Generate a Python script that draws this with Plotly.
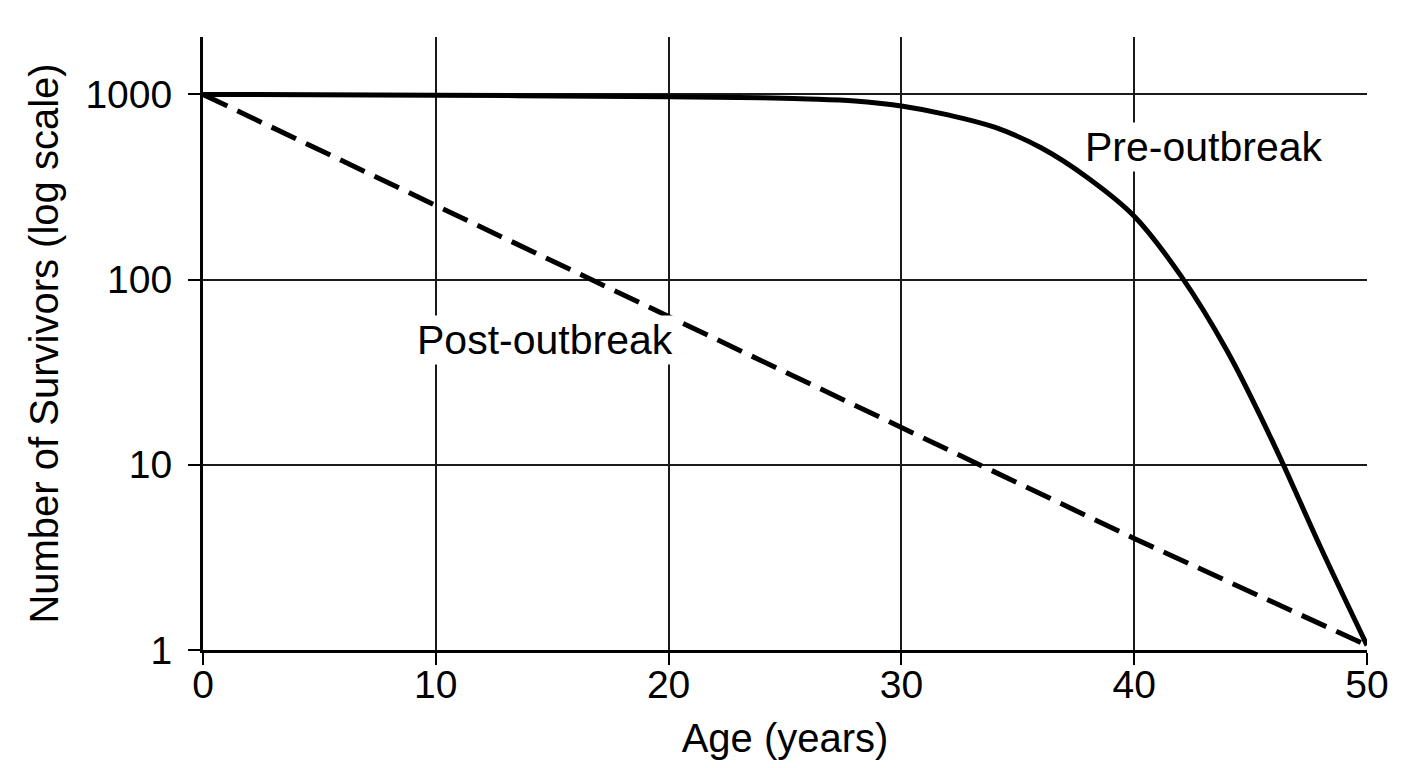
import plotly.graph_objects as go

# survival curves (age in years, survivors on log scale)
ages_pre = [0, 10, 20, 24, 26, 28, 30, 32, 34, 36, 38, 40, 42, 44, 46, 48, 50]
survivors_pre = [1000, 990, 972, 958, 945, 922, 865, 775, 665, 515, 355, 220, 105, 41, 12.9, 3.6, 1.06]

ages_post = [0, 10, 20, 30, 40, 50]
survivors_post = [1000, 251, 63, 16, 4.0, 1.06]

x_ticks = [0, 10, 20, 30, 40, 50]
y_ticks = [1, 10, 100, 1000]
y_tick_text = ['1', '10', '100', '1000']

font_family = 'Liberation Sans, Arial, sans-serif'

fig = go.Figure()

fig.add_trace(go.Scatter(
    x=ages_pre, y=survivors_pre,
    mode='lines',
    line=dict(color='black', width=5, shape='spline', smoothing=1),
    name='Pre-outbreak'
))

fig.add_trace(go.Scatter(
    x=ages_post, y=survivors_post,
    mode='lines',
    line=dict(color='black', width=5, dash='27px,11px'),
    name='Post-outbreak'
))

fig.add_annotation(x=43.0, y=2.714, text='Pre-outbreak', showarrow=False,
                   bgcolor='white', font=dict(size=41, color='black', family=font_family))
fig.add_annotation(x=14.7, y=1.673, text='Post-outbreak', showarrow=False,
                   bgcolor='white', font=dict(size=41, color='black', family=font_family))

axis_common = dict(
    showline=True, linecolor='black', linewidth=3,
    showgrid=True, gridcolor='#1a1a1a', gridwidth=1.5,
    ticks='outside', ticklen=12, tickwidth=2, tickcolor='black',
    zeroline=False,
    tickfont=dict(size=39, color='black', family=font_family),
)

# page body has an 8px margin, so the figure is 8px smaller than the window
fig.update_layout(
    width=1400, height=760,
    margin=dict(l=195, r=41, t=29, b=118),
    paper_bgcolor='white', plot_bgcolor='white',
    showlegend=False,
    font=dict(family=font_family, color='black'),
    xaxis=dict(
        range=[0, 50], tickvals=x_ticks, ticklabelstandoff=-14,
        title=dict(text='Age (years)', font=dict(size=40, color='black'), standoff=20),
        **axis_common
    ),
    yaxis=dict(
        type='log', range=[0, 3.31],
        tickvals=y_ticks, ticktext=y_tick_text, ticklabelstandoff=8,
        title=dict(text='Number of Survivors (log scale)', font=dict(size=40, color='black'), standoff=15),
        **axis_common
    ),
)

fig.write_html('out.html')
